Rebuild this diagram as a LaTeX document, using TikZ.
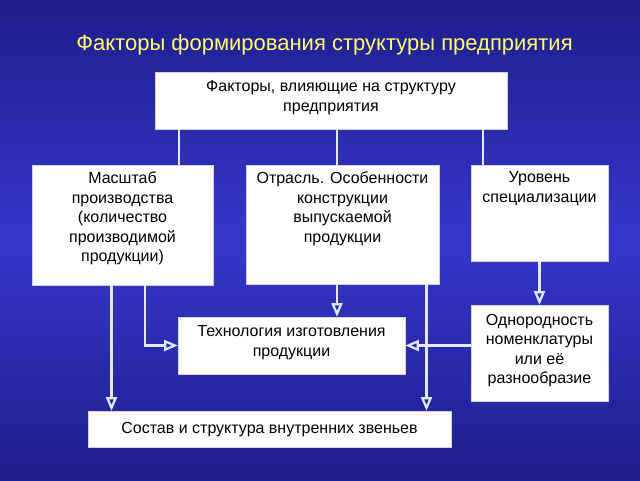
\documentclass[tikz,border=0pt]{standalone}
\usepackage{fontspec}
\setmainfont{Liberation Sans}
\usetikzlibrary{arrows}

\definecolor{bgdark}{RGB}{30,30,140}
\definecolor{bglight}{RGB}{54,54,204}
\definecolor{titleyellow}{RGB}{255,255,105}
\definecolor{linkcol}{RGB}{225,232,255}

\tikzset{
  box/.style={fill=white, draw=gray!35, line width=0.6pt, inner sep=0pt},
  lbl/.style={align=center, inner sep=0pt, anchor=north, font=\fontsize{16}{19.5}\selectfont},
  link/.style={draw=linkcol, line width=2.2pt},
  arr/.style={link, -open triangle 45}
}

\begin{document}
\begin{tikzpicture}[x=1pt,y=-1pt]
  \shade[top color=bgdark, bottom color=bgdark, middle color=bglight] (0,0) rectangle (640,480);
  \useasboundingbox (0,0) rectangle (640,480);

  \node[titleyellow, font=\fontsize{22}{26}\selectfont] (title) at (324.5,45) {Факторы формирования структуры предприятия};

  % boxes
  \node[box, minimum width=352pt, minimum height=57pt] (top) at (331,100.5) {};
  \node[box, minimum width=181pt, minimum height=120pt] (mash) at (122.5,225) {};
  \node[box, minimum width=193pt, minimum height=119pt] (otr) at (342.5,224.5) {};
  \node[box, minimum width=137pt, minimum height=96pt] (urov) at (539.5,213) {};
  \node[box, minimum width=227pt, minimum height=57pt] (tech) at (291.5,345.5) {};
  \node[box, minimum width=137pt, minimum height=96pt] (odn) at (539.5,353) {};
  \node[box, minimum width=363pt, minimum height=36pt] (sost) at (269.5,429) {};

  % texts
  \node[lbl] (topT) at ([yshift=-9pt]top.north) {Факторы, влияющие на структуру\\предприятия};
  \node[lbl] (mashT) at ([yshift=-7pt]mash.north) {Масштаб\\производства\\(количество\\производимой\\продукции)};
  \node[lbl] (otrT) at ([yshift=-7pt]otr.north) {Отрасль. Особенности\\конструкции\\выпускаемой\\продукции};
  \node[lbl] (urovT) at ([yshift=-7pt]urov.north) {Уровень\\специализации};
  \node[lbl] (techT) at ([yshift=-9pt]tech.north) {Технология изготовления\\продукции};
  \node[lbl] (odnT) at ([yshift=-9pt]odn.north) {Однородность\\номенклатуры\\или её\\разнообразие};
  \node[lbl] (sostT) at ([yshift=-11pt]sost.north) {Состав и структура внутренних звеньев};

  % where the lines leave the boxes
  \coordinate (xa) at (179,0);
  \coordinate (xb) at (337,0);
  \coordinate (xc) at (483,0);
  \coordinate (xd) at (111.5,0);
  \coordinate (xe) at (145,0);
  \coordinate (xf) at (426.5,0);

  \draw[link] (top.south -| xa) -- (mash.north -| xa);
  \draw[link] (top.south -| xb) -- (otr.north -| xb);
  \draw[link] (top.south -| xc) -- (urov.north -| xc);

  \draw[arr] (mash.south -| xd) -- (sost.north -| xd);
  \draw[arr] (mash.south -| xe) |- (tech.west);
  \draw[arr] (otr.south -| xb) -- (tech.north -| xb);
  \draw[arr] (otr.south -| xf) -- (sost.north -| xf);
  \draw[arr] (urov.south) -- (odn.north);
  \draw[arr] (odn.west |- tech.east) -- (tech.east);
\end{tikzpicture}
\end{document}
